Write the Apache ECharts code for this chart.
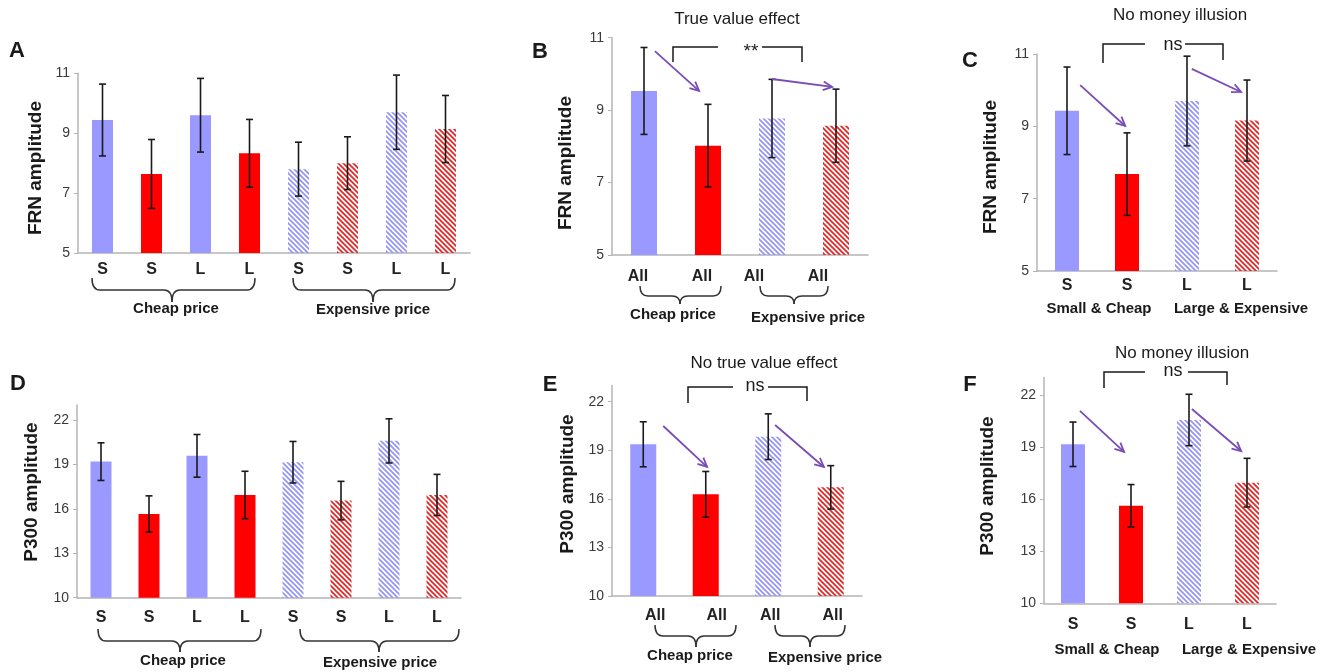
<!DOCTYPE html>
<html>
<head>
<meta charset="utf-8">
<title>FRN / P300 amplitude</title>
<script src="https://cdn.jsdelivr.net/npm/echarts@6/dist/echarts.min.js"></script>
<style>
  html, body { margin: 0; padding: 0; background: #fff; }
  #chart { width: 1332px; height: 672px; }
</style>
</head>
<body>
<div id="chart"></div>
<script>
// ---- data ----
var catsA = ['S', 'S', 'L', 'L', 'S', 'S', 'L', 'L'];
var meanA = [9.44, 7.64, 9.60, 8.33, 7.80, 8.00, 9.70, 9.14];
var errA  = [1.20, 1.15, 1.23, 1.13, 0.90, 0.88, 1.24, 1.12];

var catsB = ['All', 'All', 'All', 'All'];
var meanB = [9.53, 8.02, 8.77, 8.57];
var errB  = [1.20, 1.14, 1.08, 1.01];

var catsC = ['S', 'S', 'L', 'L'];
var meanC = [9.43, 7.68, 9.70, 9.16];
var errC  = [1.21, 1.14, 1.24, 1.12];

var catsD = ['S', 'S', 'L', 'L', 'S', 'S', 'L', 'L'];
var meanD = [19.18, 15.65, 19.57, 16.93, 19.14, 16.55, 20.58, 16.93];
var errD  = [1.27, 1.22, 1.44, 1.60, 1.40, 1.30, 1.49, 1.39];

var catsE = ['All', 'All', 'All', 'All'];
var meanE = [19.37, 16.28, 19.84, 16.71];
var errE  = [1.39, 1.41, 1.41, 1.34];

var catsF = ['S', 'S', 'L', 'L'];
var meanF = [19.16, 15.62, 20.56, 16.95];
var errF  = [1.28, 1.22, 1.48, 1.40];

// bar fill kinds
var kinds8 = ['blue', 'red', 'blue', 'red', 'blueHatch', 'redHatch', 'blueHatch', 'redHatch'];
var kinds4 = ['blue', 'red', 'blueHatch', 'redHatch'];

// arrows: [fromCategory, fromValue, toCategory, toValue] (fractional category positions)
var arrowsB = [[0.17, 10.63, 0.86, 9.53], [2.0, 9.86, 2.94, 9.64]];
var arrowsC = [[0.22, 10.14, 0.97, 9.01], [2.08, 10.59, 2.9, 9.95]];
var arrowsE = [[0.32, 20.5, 1.02, 17.97], [2.11, 20.56, 2.89, 17.97]];
var arrowsF = [[0.12, 21.08, 0.88, 18.72], [2.05, 21.19, 2.9, 18.77]];

var ticksTop = [5, 7, 9, 11];
var ticksBottom = [10, 13, 16, 19, 22];

var FONT = 'Arial, "Liberation Sans", sans-serif';

function hatch(color) {
    var c = document.createElement('canvas');
    c.width = 5; c.height = 5;
    var ctx = c.getContext('2d');
    ctx.strokeStyle = color;
    ctx.lineWidth = 1.7;
    ctx.beginPath();
    ctx.moveTo(-1, -1); ctx.lineTo(6, 6);
    ctx.moveTo(-1, 4); ctx.lineTo(1, 6);
    ctx.moveTo(4, -1); ctx.lineTo(6, 1);
    ctx.stroke();
    return c;
}

var fills = {
    blue: '#9999ff',
    red: '#ff0000',
    blueHatch: { image: hatch('#9494f8'), repeat: 'repeat' },
    redHatch: { image: hatch('#e52424'), repeat: 'repeat' }
};

// panel layout (pixels)
var panels = [
    { cats: catsA, mean: meanA, err: errA, kinds: kinds8, grid: { left: 78, top: 73.3, width: 392, height: 179.7 },
      min: 5, max: 11, ticks: ticksTop, barWidth: 21, labelMargin: 9 },
    { cats: catsB, mean: meanB, err: errB, kinds: kinds4, grid: { left: 612, top: 37.7, width: 256, height: 217.3 },
      min: 5, max: 11, ticks: ticksTop, barWidth: 26, labelMargin: 14, arrows: arrowsB,
      labelShift: [12, 12, 36, 36] },
    { cats: catsC, mean: meanC, err: errC, kinds: kinds4, grid: { left: 1037, top: 54, width: 240, height: 217 },
      min: 5, max: 11, ticks: ticksTop, barWidth: 24, labelMargin: 7, arrows: arrowsC },
    { cats: catsD, mean: meanD, err: errD, kinds: kinds8, grid: { left: 77, top: 405, width: 384, height: 192.7 },
      min: 10, max: 23, ticks: ticksBottom, barWidth: 21, labelMargin: 12 },
    { cats: catsE, mean: meanE, err: errE, kinds: kinds4, grid: { left: 612, top: 385.5, width: 250, height: 210.5 },
      min: 10, max: 23, ticks: ticksBottom, barWidth: 26, labelMargin: 12, arrows: arrowsE,
      labelShift: [-24, -22, -4, -4] },
    { cats: catsF, mean: meanF, err: errF, kinds: kinds4, grid: { left: 1044, top: 377.6, width: 232, height: 225.7 },
      min: 10, max: 23, ticks: ticksBottom, barWidth: 24, labelMargin: 13, arrows: arrowsF }
];

var grids = [], xAxes = [], yAxes = [], series = [];

function shiftStyle(s) {
    return { fontFamily: FONT, fontSize: 16, fontWeight: 'bold', color: '#222',
        padding: s > 0 ? [0, s, 0, 0] : [0, 0, 0, -s] };
}

panels.forEach(function (p, i) {
    grids.push(p.grid);
    var shift = p.labelShift;
    var rich = {};
    if (shift) shift.forEach(function (s, k) { rich['s' + k] = shiftStyle(s); });
    xAxes.push({
        type: 'category', gridIndex: i, data: p.cats,
        axisLine: { lineStyle: { color: '#b4b4b4', width: 1.5 } },
        axisTick: { show: false },
        axisLabel: {
            interval: 0, hideOverlap: false,
            margin: p.labelMargin, fontFamily: FONT, fontSize: 16, fontWeight: 'bold', color: '#222',
            formatter: function (v, idx) { return shift ? '{s' + idx + '|' + v + '}' : v; },
            rich: rich
        }
    });
    yAxes.push({
        type: 'value', gridIndex: i, min: p.min, max: p.max, interval: p.ticks[1] - p.ticks[0],
        axisLine: { show: true, lineStyle: { color: '#b4b4b4', width: 1.5 } },
        axisTick: { show: true, length: 4, lineStyle: { color: '#b4b4b4' }, customValues: p.ticks },
        splitLine: { show: false },
        axisLabel: { fontFamily: FONT, fontSize: 14, color: '#3a3a3a', margin: 8, customValues: p.ticks }
    });
    series.push({
        type: 'bar', xAxisIndex: i, yAxisIndex: i, barWidth: p.barWidth, silent: true,
        data: p.mean.map(function (m, k) { return { value: m, itemStyle: { color: fills[p.kinds[k]] } }; })
    });
    series.push({
        type: 'custom', xAxisIndex: i, yAxisIndex: i, silent: true, z: 5,
        encode: { x: 0, y: 1 },
        data: p.mean.map(function (m, k) { return [k, m, p.err[k]]; }),
        renderItem: function (params, api) {
            var hi = api.coord([api.value(0), api.value(1) + api.value(2)]);
            var lo = api.coord([api.value(0), api.value(1) - api.value(2)]);
            var st = { stroke: '#1a1a1a', lineWidth: 1.6 };
            return { type: 'group', children: [
                { type: 'line', shape: { x1: hi[0], y1: hi[1], x2: lo[0], y2: lo[1] }, style: st },
                { type: 'line', shape: { x1: hi[0] - 3.5, y1: hi[1], x2: hi[0] + 3.5, y2: hi[1] }, style: st },
                { type: 'line', shape: { x1: lo[0] - 3.5, y1: lo[1], x2: lo[0] + 3.5, y2: lo[1] }, style: st }
            ] };
        }
    });
    if (p.arrows) {
        series.push({
            type: 'custom', xAxisIndex: i, yAxisIndex: i, silent: true, z: 6,
            encode: { x: 0, y: 1 },
            data: p.arrows,
            renderItem: function (params, api) {
                var bw = api.size([1, 0])[0];
                function pt(x, v) {
                    var k = Math.round(x);
                    var c = api.coord([k, v]);
                    return [c[0] + (x - k) * bw, c[1]];
                }
                var a = pt(api.value(0), api.value(1));
                var b = pt(api.value(2), api.value(3));
                var ang = Math.atan2(b[1] - a[1], b[0] - a[0]);
                var L = 10, w = 0.45;
                var h1 = [b[0] - L * Math.cos(ang - w), b[1] - L * Math.sin(ang - w)];
                var h2 = [b[0] - L * Math.cos(ang + w), b[1] - L * Math.sin(ang + w)];
                var st = { stroke: '#7a4cb6', lineWidth: 1.8, fill: null };
                return { type: 'group', children: [
                    { type: 'line', shape: { x1: a[0], y1: a[1], x2: b[0], y2: b[1] }, style: st },
                    { type: 'polyline', shape: { points: [h1, b, h2] }, style: st }
                ] };
            }
        });
    }
});

// ---- annotations ----
var graphic = [];
function txt(x, y, s, size, weight, rot) {
    graphic.push({ type: 'text', x: x, y: y, rotation: rot || 0, silent: true,
        style: { text: s, fontFamily: FONT, fontSize: size, fontWeight: weight || 'normal', fill: '#1a1a1a', align: 'center', verticalAlign: 'middle' } });
}
function brace(x0, x1, xm, yTop, yMid, yTip) {
    var r = 8, st = { stroke: '#333', lineWidth: 1.5, fill: null };
    var parts = [
        { type: 'bezierCurve', shape: { x1: x0, y1: yTop, cpx1: x0, cpy1: yMid, x2: x0 + r, y2: yMid } },
        { type: 'line', shape: { x1: x0 + r, y1: yMid, x2: xm - r, y2: yMid } },
        { type: 'bezierCurve', shape: { x1: xm - r, y1: yMid, cpx1: xm, cpy1: yMid, x2: xm, y2: yTip } },
        { type: 'bezierCurve', shape: { x1: xm, y1: yTip, cpx1: xm, cpy1: yMid, x2: xm + r, y2: yMid } },
        { type: 'line', shape: { x1: xm + r, y1: yMid, x2: x1 - r, y2: yMid } },
        { type: 'bezierCurve', shape: { x1: x1 - r, y1: yMid, cpx1: x1, cpy1: yMid, x2: x1, y2: yTop } }
    ];
    parts.forEach(function (el) { el.style = st; el.silent = true; graphic.push(el); });
}
function bracket(xl, xr, y, yl, yr, gapL, gapR, label, lx, ly) {
    var st = { stroke: '#1a1a1a', lineWidth: 1.5, fill: null };
    graphic.push({ type: 'polyline', silent: true, shape: { points: [[xl, yl], [xl, y], [gapL, y]] }, style: st });
    graphic.push({ type: 'polyline', silent: true, shape: { points: [[gapR, y], [xr, y], [xr, yr]] }, style: st });
    txt(lx, ly, label, label === '**' ? 19 : 18);
}

// panel letters
txt(17, 51, 'A', 22, 'bold');
txt(540, 52, 'B', 22, 'bold');
txt(970, 61, 'C', 22, 'bold');
txt(18, 384, 'D', 22, 'bold');
txt(550, 385, 'E', 22, 'bold');
txt(970, 385, 'F', 22, 'bold');

// y axis names
txt(36, 168, 'FRN amplitude', 19, 'bold', Math.PI / 2);
txt(566, 163, 'FRN amplitude', 19, 'bold', Math.PI / 2);
txt(991, 167, 'FRN amplitude', 19, 'bold', Math.PI / 2);
txt(32, 492, 'P300 amplitude', 19, 'bold', Math.PI / 2);
txt(568, 484, 'P300 amplitude', 19, 'bold', Math.PI / 2);
txt(988, 486, 'P300 amplitude', 19, 'bold', Math.PI / 2);

// panel titles
txt(737, 19, 'True value effect', 17);
txt(1180, 15, 'No money illusion', 17);
txt(764, 363, 'No true value effect', 17);
txt(1182, 353, 'No money illusion', 17);

// significance brackets
bracket(673, 802, 47, 62, 62, 718, 762, '**', 751, 52);
bracket(1103, 1223, 44, 63, 60, 1145, 1185, 'ns', 1173, 45);
bracket(688, 807, 387, 403, 401, 733, 768, 'ns', 755, 386);
bracket(1104, 1227, 372, 388, 385, 1145, 1188, 'ns', 1173, 371);

// braces and group names
brace(92, 255, 172, 278, 290, 302);
brace(293, 455, 373, 278, 290, 302);
txt(176, 309, 'Cheap price', 15, 'bold');
txt(373, 310, 'Expensive price', 15, 'bold');

brace(640, 721, 680, 286, 296, 304);
brace(760, 828, 794, 286, 296, 304);
txt(673, 315, 'Cheap price', 15, 'bold');
txt(808, 318, 'Expensive price', 15, 'bold');

txt(1099, 309, 'Small & Cheap', 15, 'bold');
txt(1241, 309, 'Large & Expensive', 15, 'bold');

brace(98, 261, 180, 629, 641, 652);
brace(300, 459, 379, 629, 641, 652);
txt(183, 661, 'Cheap price', 15, 'bold');
txt(380, 663, 'Expensive price', 15, 'bold');

brace(655, 736, 696, 625, 636, 647);
brace(775, 845, 810, 625, 636, 647);
txt(690, 656, 'Cheap price', 15, 'bold');
txt(825, 658, 'Expensive price', 15, 'bold');

txt(1107, 650, 'Small & Cheap', 15, 'bold');
txt(1249, 650, 'Large & Expensive', 15, 'bold');

var myChart = echarts.init(document.getElementById('chart'));
myChart.setOption({
    animation: false,
    backgroundColor: '#fff',
    grid: grids,
    xAxis: xAxes,
    yAxis: yAxes,
    series: series,
    graphic: graphic
});
</script>
</body>
</html>
